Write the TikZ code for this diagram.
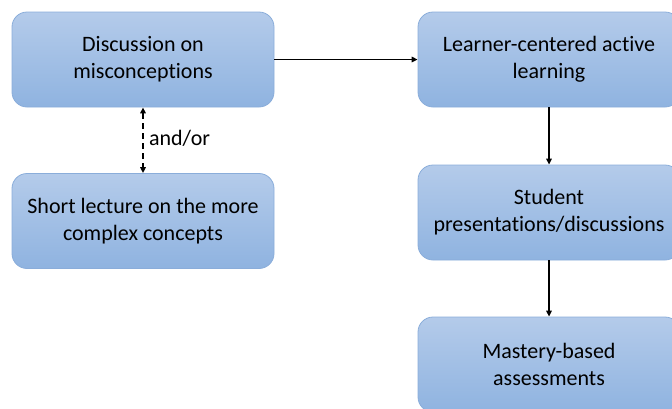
\documentclass[tikz,border=0pt]{standalone}
\usepackage{fontspec}
\setmainfont[Ligatures=NoCommon]{Carlito}
\usepackage{xcolor}
\usepackage{tikz}
\usetikzlibrary{arrows.meta}
\usetikzlibrary{positioning}
\definecolor{boxtop}{HTML}{B4CBEA}
\definecolor{boxbot}{HTML}{8FB3E0}
\definecolor{boxline}{HTML}{8AADDA}
\tikzset{
    stepnode/.style = {rectangle, rounded corners=15pt, draw=boxline, line width=0.8pt,
        top color=boxtop, bottom color=boxbot, align=center,
        font=\fontsize{22}{27}\selectfont,
        minimum width=262pt, minimum height=95pt, inner sep=0pt},
}

\begin{document}
\begin{tikzpicture}[x=1pt, y=-1pt]
\tikzset{
    edgea/.style = {-{Triangle[length=6pt,width=5.5pt]}, line width=1.4pt, black},
    edged/.style = {{Triangle[length=6pt,width=5.5pt]}-{Triangle[length=6pt,width=5.5pt]}, line width=1.4pt, black, dash pattern=on 6pt off 4pt}
}
\useasboundingbox (0,0) rectangle (672,408);
\clip (0,0) rectangle (672,408);
\node[stepnode] at (143,59.5) (dis) {Discussion on\\misconceptions};
\node[stepnode] at (143,221) (lec) {Short lecture on the more\\complex concepts};
\node[stepnode] at (549,59.5) (act) {Learner-centered active\\learning};
\node[stepnode] at (549,212.5) (pres) {Student\\presentations/discussions};
\node[stepnode] at (549,364.5) (mast) {Mastery-based\\assessments};
%
\draw[edgea] (dis) -- (act);
\draw[edgea] (act) -- (pres);
\draw[edgea] (pres) -- (mast);
%
\draw[edged] (dis) -- node[right, font=\fontsize{22}{26}\selectfont, xshift=2pt, yshift=2pt] {and/or} (lec);
\end{tikzpicture}
\end{document}
